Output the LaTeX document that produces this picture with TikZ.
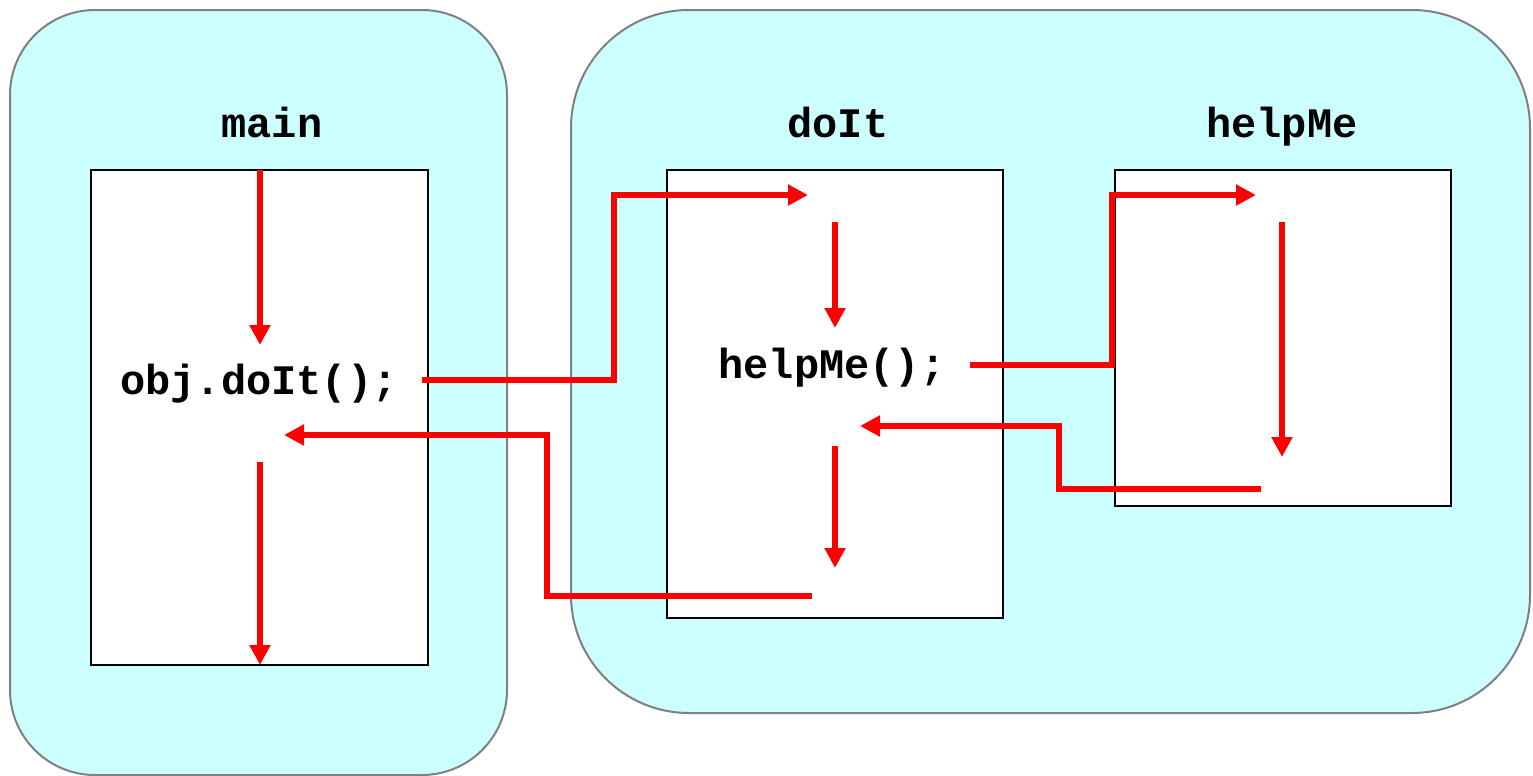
\documentclass[tikz,border=0pt]{standalone}
\usepackage{fontspec}
\setmonofont{Liberation Mono}
\usetikzlibrary{arrows.meta}
\definecolor{regionfill}{HTML}{CCFFFF}
\definecolor{regionline}{HTML}{808080}
\begin{document}
\begin{tikzpicture}[x=0.5pt,y=-0.5pt,
  region/.style={draw=regionline,fill=regionfill,line width=1pt,inner sep=0pt,outer sep=0pt},
  frame/.style={draw=black,fill=white,line width=1.1pt,inner sep=0pt,outer sep=0pt},
  code/.style={font=\ttfamily\bfseries\fontsize{21pt}{25pt}\selectfont,inner sep=0pt,anchor=base},
  flow/.style={draw=red,line width=2.9pt,-{Triangle[length=10pt,width=10pt]}}
]
\useasboundingbox (0,0) rectangle (1533,776);
% regions
\node[region,rounded corners=42.5pt,minimum width=248.5pt,minimum height=382.5pt] (mainregion) at (258.5,392.5) {};
\node[region,rounded corners=59pt,minimum width=479.5pt,minimum height=351.5pt] (objregion) at (1050.5,361.5) {};
% frames
\node[frame,minimum width=168.5pt,minimum height=247.5pt] (mainbox) at (259.5,417.5) {};
\node[frame,minimum width=168pt,minimum height=224pt] (doitbox) at (835,394) {};
\node[frame,minimum width=168pt,minimum height=168pt] (helpbox) at (1283,338) {};
% labels
\node[code] (mainlbl) at (272,137) {main};
\node[code] (doitlbl) at (838,137) {doIt};
\node[code] (helplbl) at (1282,137) {helpMe};
\node[code] (call1) at (259,394) {obj.doIt();};
\node[code] (call2) at (832,378) {helpMe();};
% coordinates
\coordinate (m1) at (260,170);
\coordinate (m2) at (260,345);
\coordinate (m3) at (260,462);
\coordinate (m4) at (260,665);
\coordinate (c1s) at (422,380);
\coordinate (c1e) at (808,195);
\coordinate (d1) at (835,222);
\coordinate (d2) at (835,328);
\coordinate (c2s) at (970,365);
\coordinate (c2e) at (1256,195);
\coordinate (h1) at (1282,222);
\coordinate (h2) at (1282,457);
\coordinate (r1s) at (1261,489);
\coordinate (r1e) at (860,426);
\coordinate (d3) at (835,446);
\coordinate (d4) at (835,568);
\coordinate (r2s) at (812,596);
\coordinate (r2e) at (284,435);
% connectors
\draw[flow] (m1) -- (m2);
\draw[flow] (m3) -- (m4);
\draw[flow] (c1s) -- (614,380) -- (614,195) -- (c1e);
\draw[flow] (d1) -- (d2);
\draw[flow] (c2s) -- (1112,365) -- (1112,195) -- (c2e);
\draw[flow] (h1) -- (h2);
\draw[flow] (r1s) -- (1059,489) -- (1059,426) -- (r1e);
\draw[flow] (d3) -- (d4);
\draw[flow] (r2s) -- (547,596) -- (547,435) -- (r2e);
\end{tikzpicture}
\end{document}
